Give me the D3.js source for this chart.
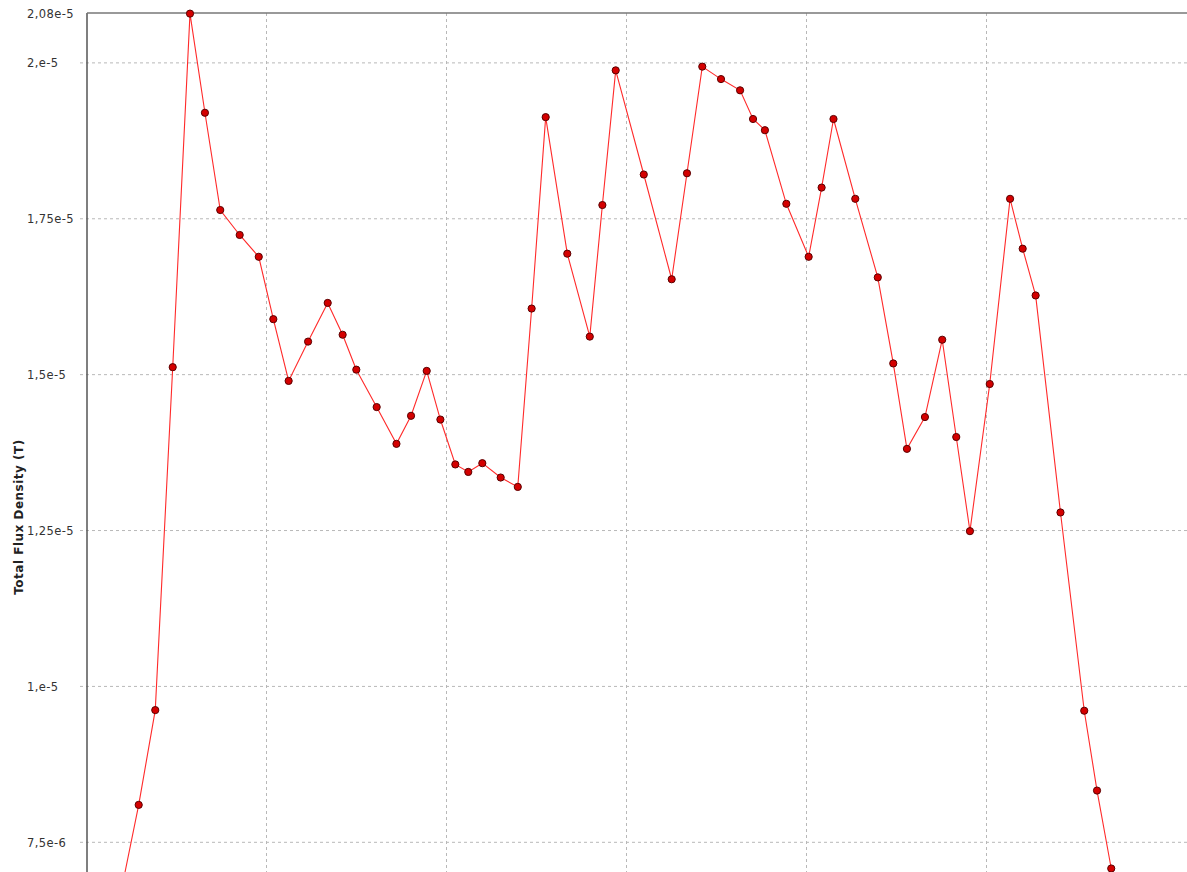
<!DOCTYPE html>
<html>
<head>
<meta charset="utf-8">
<script src="https://cdn.jsdelivr.net/npm/d3@7"></script>
<style>
  html, body { margin: 0; padding: 0; background: #fff; overflow: hidden; }
  svg { display: block; }
</style>
</head>
<body>
<svg id="chart" width="1187" height="872"></svg>
<script>
// Position along the measured path (grid every 10 units)
const positions = [
  1.97, 2.90, 3.82, 4.79, 5.75, 6.58, 7.43, 8.51, 9.57, 10.38,
  11.23, 12.31, 13.40, 14.23, 14.99, 16.12, 17.22, 18.03, 18.90, 19.66,
  20.49, 21.21, 21.99, 23.01, 23.96, 24.73, 25.51, 26.71, 27.96, 28.66,
  29.40, 30.96, 32.51, 33.36, 34.21, 35.25, 36.31, 37.03, 37.69, 38.88,
  40.12, 40.84, 41.50, 42.71, 43.96, 44.82, 45.58, 46.58, 47.54, 48.32,
  49.08, 50.18, 51.31, 52.01, 52.73, 54.11, 55.43, 56.14, 56.93
];

// Total flux density, in units of 1e-5 T
const fluxE5 = [
  0.678, 0.810, 0.962, 1.512, 2.079, 1.920, 1.764, 1.724, 1.689, 1.589,
  1.490, 1.553, 1.615, 1.564, 1.508, 1.448, 1.389, 1.434, 1.506, 1.428,
  1.356, 1.344, 1.358, 1.335, 1.320, 1.606, 1.913, 1.694, 1.561, 1.772,
  1.988, 1.821, 1.653, 1.823, 1.994, 1.974, 1.956, 1.910, 1.892, 1.774,
  1.689, 1.800, 1.910, 1.782, 1.656, 1.518, 1.381, 1.432, 1.556, 1.400,
  1.249, 1.485, 1.782, 1.702, 1.627, 1.279, 0.961, 0.833, 0.708
];

const yTickValues = [2.08e-5, 2.0e-5, 1.75e-5, 1.5e-5, 1.25e-5, 1.0e-5, 7.5e-6];
const yTickLabels = ["2,08e-5", "2,e-5", "1,75e-5", "1,5e-5", "1,25e-5", "1,e-5", "7,5e-6"];
const xGridValues = [10, 20, 30, 40, 50];

const data = positions.map((p, i) => ({ x: p, y: fluxE5[i] * 1e-5 }));

const svg = d3.select("#chart");
const plotLeft = 87, plotTop = 13;
const plotRight = 1200, plotBottom = 900;

const x = d3.scaleLinear().domain([0, 62]).range([86.5, 86.5 + 62 * 18]);
const y = d3.scaleLinear().domain([7.5e-6, 2.08e-5]).range([842.3, plotTop]);

// Grid lines (horizontal ones run a few pixels past the axis as tick marks)
const gridColor = "#b8b8b8";
svg.append("g")
  .selectAll("line")
  .data(yTickValues.slice(1))
  .join("line")
  .attr("x1", 80).attr("x2", plotRight)
  .attr("y1", d => y(d)).attr("y2", d => y(d))
  .attr("stroke", gridColor).attr("stroke-width", 1)
  .attr("stroke-dasharray", "3,3");

svg.append("g")
  .selectAll("line")
  .data(xGridValues)
  .join("line")
  .attr("x1", d => x(d)).attr("x2", d => x(d))
  .attr("y1", plotTop).attr("y2", plotBottom)
  .attr("stroke", gridColor).attr("stroke-width", 1)
  .attr("stroke-dasharray", "3,3");

// Plot frame: left axis and top border
svg.append("line")
  .attr("x1", plotLeft).attr("x2", plotLeft).attr("y1", plotTop).attr("y2", plotBottom)
  .attr("stroke", "#555").attr("stroke-width", 1.5);
svg.append("line")
  .attr("x1", plotLeft).attr("x2", plotRight).attr("y1", plotTop).attr("y2", plotTop)
  .attr("stroke", "#777").attr("stroke-width", 1.5);

// Y axis tick labels
const yAxis = d3.axisLeft(y)
  .tickValues(yTickValues)
  .tickFormat((d, i) => yTickLabels[i])
  .tickSize(0);
const gy = svg.append("g").attr("transform", `translate(${plotLeft},0)`).call(yAxis);
gy.select(".domain").remove();
gy.selectAll("text")
  .attr("x", 27 - plotLeft)
  .attr("text-anchor", "start")
  .attr("dy", "0.35em")
  .attr("fill", "#333")
  .style("font-family", "'DejaVu Sans', Verdana, sans-serif")
  .style("font-size", "11.5px")
  .style("letter-spacing", "0.4px");

// Y axis title
svg.append("text")
  .attr("transform", "translate(23,517) rotate(-90)")
  .attr("text-anchor", "middle")
  .attr("fill", "#222")
  .style("font-family", "'DejaVu Sans', Verdana, sans-serif")
  .style("font-size", "12px")
  .style("font-weight", "bold")
  .style("letter-spacing", "0.5px")
  .text("Total Flux Density (T)");

// Series line and markers
const line = d3.line().x(d => x(d.x)).y(d => y(d.y));
svg.append("path")
  .datum(data)
  .attr("d", line)
  .attr("fill", "none")
  .attr("stroke", "#ff2a2a")
  .attr("stroke-width", 1.1);

svg.append("g")
  .selectAll("circle")
  .data(data)
  .join("circle")
  .attr("cx", d => x(d.x))
  .attr("cy", d => y(d.y))
  .attr("r", 3.6)
  .attr("fill", "#d40000")
  .attr("stroke", "#5a0000")
  .attr("stroke-width", 1);
</script>
</body>
</html>
